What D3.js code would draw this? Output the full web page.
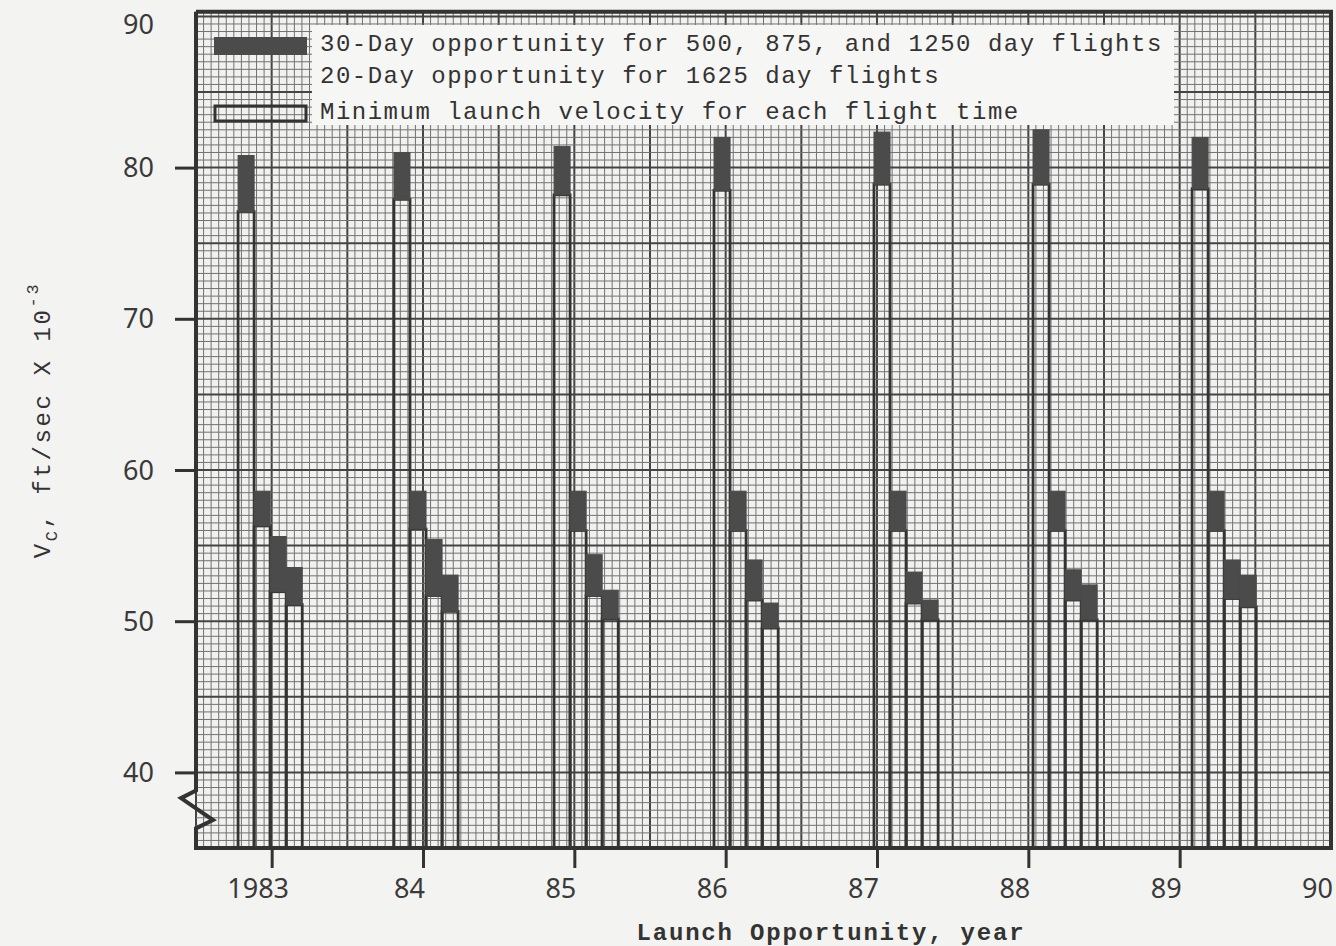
<!DOCTYPE html>
<html>
<head>
<meta charset="utf-8">
<script src="https://cdn.jsdelivr.net/npm/d3@7"></script>
<style>
  html, body { margin: 0; padding: 0; background: #f3f3f1; }
  svg { display: block; }
</style>
</head>
<body>
<svg id="chart" width="1336" height="946"></svg>
<script>
// Start of each launch window (decimal year)
const launchDates = [1982.778, 1983.808, 1984.866, 1985.923, 1986.980, 1988.031, 1989.082];
// Flight times in days, one bar per flight time inside each window
const flightTimes = [500, 875, 1250, 1625];

// Minimum launch velocity V_C (ft/sec x 10^-3) per window
const minV500  = [77.1, 77.9, 78.2, 78.5, 78.9, 78.9, 78.6];
const minV875  = [56.3, 56.1, 56.0, 56.0, 56.0, 56.0, 56.0];
const minV1250 = [51.95, 51.7, 51.7, 51.4, 51.2, 51.4, 51.5];
const minV1625 = [51.1, 50.65, 50.15, 49.55, 50.1, 50.1, 50.95];

// Upper end of the launch opportunity (30-day, or 20-day for 1625 days)
const maxV500  = [80.8, 81.0, 81.4, 82.0, 82.35, 82.5, 82.0];
const maxV875  = [58.6, 58.6, 58.6, 58.6, 58.6, 58.6, 58.6];
const maxV1250 = [55.6, 55.4, 54.4, 54.05, 53.25, 53.4, 54.05];
const maxV1625 = [53.55, 53.05, 52.05, 51.2, 51.4, 52.4, 53.05];

// Axis ticks
const yearTicks  = [1983, 1984, 1985, 1986, 1987, 1988, 1989, 1990];
const yearLabels = ["1983", "84", "85", "86", "87", "88", "89", "90"];
const velocityTicks = [40, 50, 60, 70, 80, 90];

const legendLabels = [
  "30-Day opportunity for 500, 875, and 1250 day flights",
  "20-Day opportunity for 1625 day flights",
  "Minimum launch velocity for each flight time"
];

// ---- table built from the arrays ----
const minByFlight = [minV500, minV875, minV1250, minV1625];
const maxByFlight = [maxV500, maxV875, maxV1250, maxV1625];
const bars = [];
launchDates.forEach((d, j) => {
  flightTimes.forEach((ft, k) => {
    bars.push({ launch: d, slot: k, flight: ft, min: minByFlight[k][j], max: maxByFlight[k][j] });
  });
});

// ---- layout ----
const svg = d3.select("#chart");
const x = d3.scaleLinear().domain([1982.5, 1990]).range([196, 1331]);
const y = d3.scaleLinear().domain([35, 90]).range([848, 16.4]);
const xL = x(1982.5), xR = x(1990), yB = y(35), yT = y(90.3);
const slotWidth = 0.106; // years per flight-time bar

// paper background
svg.append("rect").attr("x", xL).attr("y", yT).attr("width", xR - xL).attr("height", yB - yT)
  .attr("fill", "#f1f1ef");

// graph-paper grid: fine every 0.05 yr / 0.5 unit, heavy every 0.5 yr / 5 units
const grid = svg.append("g");
const vLines = d3.range(0, 151).map(i => ({ v: 1982.5 + i * 0.05, heavy: i % 10 === 0 }));
const hLines = d3.range(0, 111).map(i => ({ v: 35 + i * 0.5, heavy: i % 10 === 0 }));
grid.selectAll("line.v").data(vLines).join("line")
  .attr("x1", d => x(d.v)).attr("x2", d => x(d.v))
  .attr("y1", yT).attr("y2", yB)
  .attr("stroke", d => d.heavy ? "#444" : "#727272")
  .attr("stroke-width", d => d.heavy ? 2 : 1);
grid.selectAll("line.h").data(hLines).join("line")
  .attr("y1", d => y(d.v)).attr("y2", d => y(d.v))
  .attr("x1", xL).attr("x2", xR)
  .attr("stroke", d => d.heavy ? "#444" : "#727272")
  .attr("stroke-width", d => d.heavy ? 2 : 1);

// minimum launch velocity outlines
const barX0 = d => x(d.launch + d.slot * slotWidth);
const barX1 = d => x(d.launch + (d.slot + 1) * slotWidth);
svg.append("g").selectAll("rect").data(bars).join("rect")
  .attr("x", barX0).attr("width", d => barX1(d) - barX0(d))
  .attr("y", d => y(d.min)).attr("height", d => y(35) - y(d.min))
  .attr("fill", "none").attr("stroke", "#333").attr("stroke-width", 2.8);

// opportunity ranges
svg.append("g").selectAll("rect").data(bars).join("rect")
  .attr("x", barX0).attr("width", d => barX1(d) - barX0(d))
  .attr("y", d => y(d.max)).attr("height", d => y(d.min) - y(d.max))
  .attr("fill", "#4b4b4b").attr("stroke", "#4b4b4b").attr("stroke-width", 1);

// frame with axis break on the left edge
const frame = d3.path();
frame.moveTo(xL, yT);
frame.lineTo(xR, yT);
frame.lineTo(xR, yB);
frame.lineTo(xL, yB);
frame.lineTo(xL, y(36.3));
frame.lineTo(xL + 17, y(36.85));
frame.lineTo(xL - 15, y(38.3));
frame.lineTo(xL, y(38.8));
frame.lineTo(xL, yT);
svg.append("path").attr("d", frame.toString())
  .attr("fill", "none").attr("stroke", "#333").attr("stroke-width", 4)
  .attr("stroke-linejoin", "miter");

// y axis
const yAxis = svg.append("g").attr("transform", `translate(${xL},0)`)
  .call(d3.axisLeft(y).tickValues(velocityTicks).tickSize(21).tickPadding(21).tickFormat(d3.format("d")));
yAxis.select(".domain").remove();
yAxis.selectAll(".tick line").attr("stroke", "#333").attr("stroke-width", 3)
  .filter(d => d === 90).remove();
yAxis.selectAll(".tick text").attr("font-family", "'Noto Sans', sans-serif")
  .attr("font-size", 27).attr("fill", "#3a3a3a")
  .attr("dy", d => d === 90 ? "0.62em" : "0.34em");

// x axis
const xAxis = svg.append("g").attr("transform", `translate(0,${yB})`)
  .call(d3.axisBottom(x).tickValues(yearTicks).tickSize(20).tickPadding(11)
    .tickFormat((d, i) => yearLabels[i]));
xAxis.select(".domain").remove();
xAxis.selectAll(".tick line").attr("stroke", "#333").attr("stroke-width", 3)
  .filter(d => d === 1990).remove();
xAxis.selectAll(".tick text").attr("font-family", "'Noto Sans', sans-serif")
  .attr("font-size", 27).attr("fill", "#3a3a3a").attr("dx", -14);

// axis titles
const mono = "'Liberation Mono', 'DejaVu Sans Mono', monospace";
const yTitle = svg.append("text")
  .attr("transform", "translate(50,420) rotate(-90)")
  .attr("text-anchor", "middle")
  .attr("font-family", mono).attr("font-size", 24).attr("letter-spacing", 2.6)
  .attr("fill", "#333");
yTitle.append("tspan").text("V");
yTitle.append("tspan").attr("dy", 7).attr("font-size", 17).text("C");
yTitle.append("tspan").attr("dy", -7).text(",  ft/sec X 10");
yTitle.append("tspan").attr("dy", -12).attr("font-size", 17).text("-3");

svg.append("text")
  .attr("x", 831).attr("y", 940).attr("text-anchor", "middle")
  .attr("font-family", mono).attr("font-size", 24).attr("font-weight", "bold")
  .attr("letter-spacing", 1.8).attr("fill", "#333")
  .text("Launch Opportunity, year");

// legend
const legend = svg.append("g");
legend.append("rect").attr("x", 312).attr("y", 25).attr("width", 862).attr("height", 100)
  .attr("fill", "#f6f6f4");
legend.append("rect").attr("x", 214).attr("y", 37).attr("width", 93).attr("height", 18)
  .attr("fill", "#4b4b4b");
legend.append("rect").attr("x", 215).attr("y", 106).attr("width", 91).attr("height", 15)
  .attr("fill", "none").attr("stroke", "#333").attr("stroke-width", 3);
legend.selectAll("text").data(legendLabels).join("text")
  .attr("x", 320).attr("y", (d, i) => [51, 83, 119][i])
  .attr("font-family", mono).attr("font-size", 24).attr("letter-spacing", 1.5)
  .attr("fill", "#333")
  .text(d => d);
</script>
</body>
</html>
